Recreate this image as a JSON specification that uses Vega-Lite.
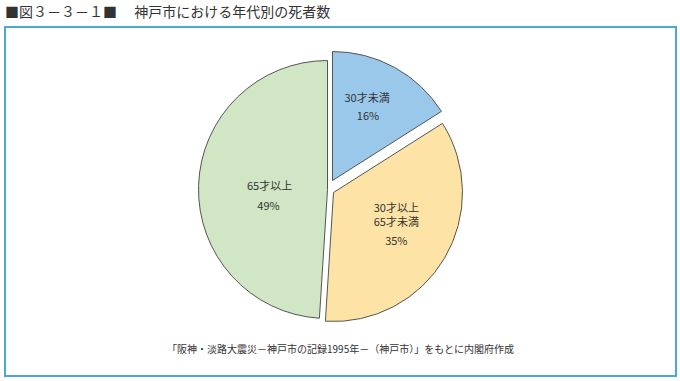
{
  "$schema": "https://vega.github.io/schema/vega-lite/v6.json",
  "width": 680,
  "height": 381,
  "autosize": {"type": "fit", "contains": "padding"},
  "padding": {"left": 5, "top": 6, "right": 4, "bottom": 5},
  "background": "white",
  "title": {
    "text": "■図３－３－１■　 神戸市における年代別の死者数",
    "anchor": "start",
    "frame": "group",
    "fontSize": 14,
    "font": "Noto Sans CJK JP",
    "fontWeight": "normal",
    "color": "#333333",
    "offset": 7
  },
  "config": {
    "view": {"stroke": "#4ba7d6", "strokeWidth": 2},
    "font": "Noto Sans CJK JP"
  },
  "data": {
    "values": [
      {"group": "30才未満", "share": 0.16, "rank": 1},
      {"group": "30才以上\n65才未満", "share": 0.35, "rank": 2},
      {"group": "65才以上", "share": 0.49, "rank": 3}
    ]
  },
  "layer": [
    {
      "mark": {
        "type": "arc",
        "radius": 129,
        "stroke": "#555555",
        "strokeWidth": 1,
        "x": {"expr": "width/2 - 13 + (datum.rank == 1 ? 5 : datum.rank == 2 ? 6 : 0)"},
        "y": {"expr": "height/2 - 12 + (datum.rank == 1 ? -9 : datum.rank == 2 ? 3 : 0)"}
      },
      "encoding": {
        "theta": {"field": "share", "type": "quantitative", "stack": true},
        "order": {"field": "rank", "type": "ordinal"},
        "color": {
          "field": "group",
          "type": "nominal",
          "scale": {
            "domain": ["30才未満", "30才以上\n65才未満", "65才以上"],
            "range": ["#9ac8eb", "#fde4a6", "#d0e6c4"]
          },
          "legend": null
        }
      }
    },
    {
      "mark": {
        "type": "text",
        "baseline": "bottom",
        "lineBreak": "\n",
        "lineHeight": 14,
        "fontSize": 11,
        "fill": "#333333",
        "dx": {"expr": "datum.rank == 1 ? -4 : datum.rank == 2 ? 0 : 2"},
        "dy": {"expr": "datum.rank == 1 ? -6 : datum.rank == 2 ? -15.5 : 4.5"},
        "x": {"expr": "width/2 - 13 + (datum.rank == 1 ? 5 : datum.rank == 2 ? 6 : 0)"},
        "y": {"expr": "height/2 - 12 + (datum.rank == 1 ? -9 : datum.rank == 2 ? 3 : 0)"},
        "radius": {"expr": "datum.rank == 1 ? 80 : datum.rank == 2 ? 73 : 60"}
      },
      "encoding": {
        "theta": {"field": "share", "type": "quantitative", "stack": true},
        "order": {"field": "rank", "type": "ordinal"},
        "detail": {"field": "group", "type": "nominal"},
        "text": {"field": "group", "type": "nominal"}
      }
    },
    {
      "mark": {
        "type": "text",
        "baseline": "top",
        "fontSize": 11,
        "fill": "#333333",
        "dx": {"expr": "datum.rank == 1 ? -3 : datum.rank == 2 ? 0 : 1"},
        "dy": {"expr": "datum.rank == 1 ? 0.5 : datum.rank == 2 ? 6 : 13"},
        "x": {"expr": "width/2 - 13 + (datum.rank == 1 ? 5 : datum.rank == 2 ? 6 : 0)"},
        "y": {"expr": "height/2 - 12 + (datum.rank == 1 ? -9 : datum.rank == 2 ? 3 : 0)"},
        "radius": {"expr": "datum.rank == 1 ? 80 : datum.rank == 2 ? 73 : 60"}
      },
      "encoding": {
        "theta": {"field": "share", "type": "quantitative", "stack": true},
        "order": {"field": "rank", "type": "ordinal"},
        "detail": {"field": "group", "type": "nominal"},
        "text": {"field": "share", "type": "quantitative", "format": ".0%"}
      }
    },
    {
      "data": {
        "values": [
          {"note": "「阪神・淡路大震災－神戸市の記録1995年－（神戸市）」をもとに内閣府作成", "px": 0.5, "py": 0.075}
        ]
      },
      "mark": {
        "type": "text",
        "fontSize": 10,
        "fill": "#333333",
        "baseline": "middle"
      },
      "encoding": {
        "x": {"field": "px", "type": "quantitative", "scale": {"domain": [0, 1]}, "axis": null},
        "y": {"field": "py", "type": "quantitative", "scale": {"domain": [0, 1]}, "axis": null},
        "text": {"field": "note", "type": "nominal"}
      }
    }
  ]
}
